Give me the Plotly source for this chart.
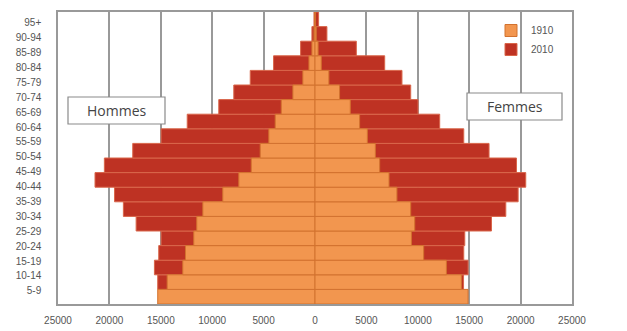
import plotly.graph_objects as go

# Age groups, bottom (youngest) to top (oldest)
age_groups = ["0-4", "5-9", "10-14", "15-19", "20-24", "25-29", "30-34", "35-39",
              "40-44", "45-49", "50-54", "55-59", "60-64", "65-69", "70-74",
              "75-79", "80-84", "85-89", "90-94", "95+"]

# Tick labels as printed on the chart (offset half a row from the bars)
tick_labels = ["5-9", "10-14", "15-19", "20-24", "25-29", "30-34", "35-39",
               "40-44", "45-49", "50-54", "55-59", "60-64", "65-69", "70-74",
               "75-79", "80-84", "85-89", "90-94", "95+"]

men_1910 = [15300, 14380, 12860, 12600, 11790, 11500, 10910, 8970, 7410, 6200,
            5330, 4490, 3870, 3280, 2150, 1180, 590, 300, 100, 20]
women_1910 = [14890, 14240, 12780, 10570, 9380, 9700, 9310, 7970, 7200, 6290,
              5870, 5090, 4340, 3430, 2390, 1350, 610, 300, 120, 20]
men_2010 = [14800, 15300, 15620, 15200, 14970, 17400, 18640, 19500, 21400, 20490,
            17730, 14970, 12430, 9360, 7900, 6300, 4030, 1400, 300, 100]
women_2010 = [14200, 14450, 14890, 14470, 14570, 17170, 18560, 19760, 20500, 19600,
              16930, 14470, 12130, 10020, 9310, 8460, 6780, 4020, 1160, 350]

x_ticks = [-25000, -20000, -15000, -10000, -5000, 0, 5000, 10000, 15000, 20000, 25000]

ORANGE = "#F2964F"
ORANGE_LINE = "#D2722F"
DARK = "#BE3223"
DARK_LINE = "#D9664A"
GRID = "#999999"
TXT = "#555555"

ypos = list(range(len(age_groups)))

fig = go.Figure()
fig.add_trace(go.Bar(y=ypos, x=[-v for v in men_2010], orientation="h", name="2010",
                     marker=dict(color=DARK, line=dict(color=DARK_LINE, width=1)),
                     width=1.0, legendgroup="2010", legendrank=2, showlegend=True,
                     hoverinfo="skip"))
fig.add_trace(go.Bar(y=ypos, x=women_2010, orientation="h", name="2010",
                     marker=dict(color=DARK, line=dict(color=DARK_LINE, width=1)),
                     width=1.0, legendgroup="2010", showlegend=False, hoverinfo="skip"))
fig.add_trace(go.Bar(y=ypos, x=[-v for v in men_1910], orientation="h", name="1910",
                     marker=dict(color=ORANGE, line=dict(color=ORANGE_LINE, width=1)),
                     width=1.0, legendgroup="1910", legendrank=1, showlegend=True,
                     hoverinfo="skip"))
fig.add_trace(go.Bar(y=ypos, x=women_1910, orientation="h", name="1910",
                     marker=dict(color=ORANGE, line=dict(color=ORANGE_LINE, width=1)),
                     width=1.0, legendgroup="1910", showlegend=False, hoverinfo="skip"))

tick_pos = [0.4 + 1.02 * i for i in range(len(tick_labels))]

# Page has an 8px body margin: figure drawn at offset (8, 8)
OFF = 8
PL, PR, PT, PB = 58, 572, 12, 304  # plot area in page pixels
W, H = 619, 323
L = PL - OFF
T = PT - OFF
R = W - (PR - OFF)
B = H - (PB - OFF)
pw, ph = PR - PL, PB - PT

def px_x(px):
    return (px - PL) / pw

def px_y(py):
    return (PB - py) / ph

fig.update_layout(
    width=W, height=H,
    margin=dict(l=L, r=R, t=T, b=B, autoexpand=False),
    paper_bgcolor="white", plot_bgcolor="white",
    barmode="overlay",
    font=dict(family="Liberation Sans, Arial, sans-serif", color=TXT, size=10),
    xaxis=dict(range=[-25000, 25000], tickvals=x_ticks,
               ticktext=[str(abs(v)) for v in x_ticks],
               showgrid=True, gridcolor=GRID, gridwidth=1.5,
               zeroline=False, showline=True, mirror=True, linecolor=GRID, linewidth=1.5,
               ticks="outside", ticklen=6, tickcolor="rgba(0,0,0,0)",
               tickfont=dict(size=10, color=TXT), automargin=False),
    yaxis=dict(range=[-0.5, 19.5], tickvals=tick_pos, ticktext=tick_labels,
               showgrid=False, zeroline=False, showline=True, mirror=True,
               linecolor=GRID, linewidth=1.5, side="left",
               ticks="outside", ticklen=13, tickcolor="rgba(0,0,0,0)",
               tickfont=dict(size=10, color=TXT), automargin=False),
    yaxis2=dict(range=[-0.5, 19.5], tickvals=tick_pos, ticktext=tick_labels,
                overlaying="y", side="right", showgrid=False, zeroline=False,
                showline=False, ticks="outside", ticklen=13, tickcolor="rgba(0,0,0,0)",
                tickfont=dict(size=10, color=TXT), automargin=False),
    legend=dict(x=px_x(491), y=px_y(16), xanchor="left", yanchor="top",
                bgcolor="rgba(0,0,0,0)", font=dict(size=10, color=TXT),
                traceorder="normal", itemwidth=30, tracegroupgap=0),
    showlegend=True,
)

# Text boxes "Hommes" / "Femmes"
fig.add_shape(type="rect", xref="paper", yref="paper",
              x0=px_x(68), x1=px_x(165), y0=px_y(124), y1=px_y(97),
              line=dict(color="#8a8a8a", width=1.2), fillcolor="white", layer="above")
fig.add_shape(type="rect", xref="paper", yref="paper",
              x0=px_x(467), x1=px_x(562), y0=px_y(120), y1=px_y(93),
              line=dict(color="#8a8a8a", width=1.2), fillcolor="white", layer="above")
fig.add_annotation(text="Hommes", xref="paper", yref="paper",
                   x=px_x(116.5), y=px_y(110.5), xanchor="center", yanchor="middle",
                   showarrow=False,
                   font=dict(size=14, color="#444444", family="Open Sans, Liberation Sans, sans-serif"))
fig.add_annotation(text="Femmes", xref="paper", yref="paper",
                   x=px_x(514.5), y=px_y(106.5), xanchor="center", yanchor="middle",
                   showarrow=False,
                   font=dict(size=14, color="#444444", family="Open Sans, Liberation Sans, sans-serif"))

fig.write_html("out.html")
